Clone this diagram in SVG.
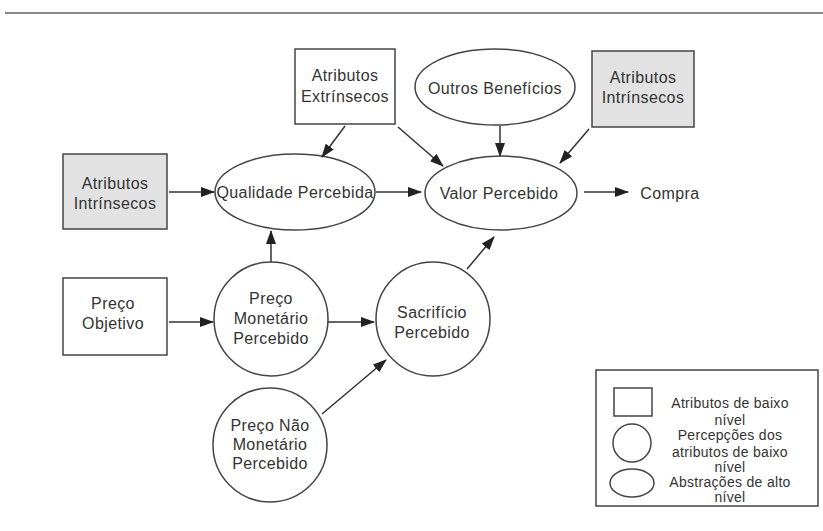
<svg xmlns="http://www.w3.org/2000/svg" width="823" height="531" viewBox="0 0 823 531">
<defs>
<style>
.n{fill:#fff;stroke:#444;stroke-width:1.5}
.g{fill:#e2e2e2;stroke:#444;stroke-width:1.5}
.t{font-family:"Liberation Sans",Arial,sans-serif;font-size:16px;letter-spacing:0.4px;fill:#333;text-anchor:middle}
.l{font-family:"Liberation Sans",Arial,sans-serif;font-size:14px;letter-spacing:0.3px;fill:#333;text-anchor:middle}
.c line{stroke:#333;stroke-width:1.5;marker-end:url(#ah)}
</style>
<marker id="ah" markerUnits="userSpaceOnUse" markerWidth="14" markerHeight="10" refX="13" refY="5" orient="auto">
<path d="M0,0 L14,5 L0,10 Z" fill="#222"/>
</marker>
</defs>
<rect width="823" height="531" fill="#fff"/>
<line x1="5" y1="13" x2="823" y2="13" stroke="#888" stroke-width="2"/>

<g id="extrinsecos"><rect class="n" x="295" y="49" width="100" height="75"/><text class="t" x="345" y="81">Atributos</text><text class="t" x="345" y="102">Extrínsecos</text></g>
<g id="outros"><ellipse class="n" cx="495" cy="87" rx="80" ry="38"/><text class="t" x="495" y="94">Outros Benefícios</text></g>
<g id="intrinsecos-dir"><rect class="g" x="592" y="51" width="102" height="76"/><text class="t" x="643" y="83">Atributos</text><text class="t" x="643" y="103">Intrínsecos</text></g>
<g id="intrinsecos-esq"><rect class="g" x="63" y="154" width="104" height="75"/><text class="t" x="115" y="189">Atributos</text><text class="t" x="115" y="209">Intrínsecos</text></g>
<g id="qualidade"><ellipse class="n" cx="295" cy="192" rx="80" ry="38"/><text class="t" x="295" y="198">Qualidade Percebida</text></g>
<g id="valor"><ellipse class="n" cx="501" cy="193" rx="76" ry="37"/><text class="t" x="499" y="199">Valor Percebido</text></g>
<g id="compra"><text class="t" x="670" y="199">Compra</text></g>
<g id="preco-objetivo"><rect class="n" x="63" y="278" width="104" height="77"/><text class="t" x="113" y="309">Preço</text><text class="t" x="113" y="329">Objetivo</text></g>
<g id="preco-monetario"><circle class="n" cx="271" cy="319" r="57"/><text class="t" x="271" y="304">Preço</text><text class="t" x="271" y="324">Monetário</text><text class="t" x="271" y="344">Percebido</text></g>
<g id="sacrificio"><circle class="n" cx="433" cy="319" r="57"/><text class="t" x="432" y="318">Sacrifício</text><text class="t" x="432" y="338">Percebido</text></g>
<g id="preco-nao-monetario"><circle class="n" cx="270" cy="445" r="57"/><text class="t" x="270" y="431">Preço Não</text><text class="t" x="270" y="450">Monetário</text><text class="t" x="270" y="469">Percebido</text></g>

<g id="legenda">
<rect class="n" x="596" y="370" width="222" height="136"/>
<rect class="n" x="614" y="388" width="38" height="28"/>
<circle class="n" cx="632" cy="443" r="19"/>
<ellipse class="n" cx="632" cy="483" rx="22" ry="14"/>
<text class="l" x="730" y="408">Atributos de baixo</text>
<text class="l" x="730" y="425">nível</text>
<text class="l" x="730" y="440">Percepções dos</text>
<text class="l" x="730" y="457">atributos de baixo</text>
<text class="l" x="730" y="472">nível</text>
<text class="l" x="730" y="487">Abstrações de alto</text>
<text class="l" x="730" y="502">nível</text>
</g>

<g id="conectores" class="c">
<line x1="345" y1="126" x2="322" y2="157"/>
<line x1="398" y1="127" x2="443" y2="166"/>
<line x1="500" y1="126" x2="500" y2="156"/>
<line x1="589" y1="129" x2="560" y2="163"/>
<line x1="169" y1="192" x2="214" y2="192"/>
<line x1="376" y1="192" x2="421" y2="192"/>
<line x1="584" y1="192" x2="628" y2="192"/>
<line x1="169" y1="322" x2="213" y2="322"/>
<line x1="271" y1="262" x2="271" y2="231"/>
<line x1="328" y1="322" x2="374" y2="322"/>
<line x1="467" y1="269" x2="494" y2="237"/>
<line x1="322" y1="414" x2="386" y2="360"/>
</g>
</svg>
